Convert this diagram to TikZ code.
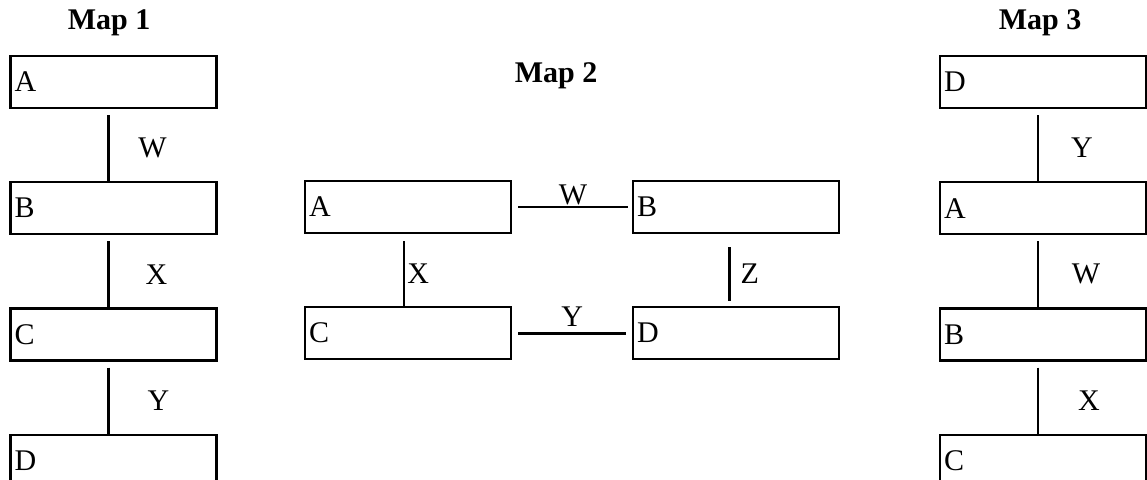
\documentclass[tikz,border=0pt]{standalone}
\usepackage{fontspec}
\setmainfont{Liberation Serif}
\usetikzlibrary{positioning}

\begin{document}
\begin{tikzpicture}[
  x=1pt, y=-1pt,
  node distance=72pt,
  box/.style={draw, line width=2.2pt, minimum height=52pt, text width=198pt,
              inner xsep=4pt, inner ysep=0pt, align=left, font=\fontsize{30}{34}\selectfont},
  maptitle/.style={anchor=base, inner sep=0pt, font=\fontsize{30}{34}\selectfont\bfseries},
  link/.style={line width=2.6pt},
  lab/.style={inner sep=2pt, font=\fontsize{30}{34}\selectfont}
]
\useasboundingbox (0,0) rectangle (1147,479);
% Map 1
\node[maptitle] (t1) at (109,29) {Map 1};
\node[box] (a1) at (113.5,82) {A};
\node[box, below=of a1] (b1) {B};
\node[box, below=of b1] (c1) {C};
\node[box, below=of c1] (d1) {D};
\draw[link] ([xshift=-5pt,yshift=-6pt]a1.south) -- node[lab, xshift=44pt]{W} ([xshift=-5pt]b1.north);
\draw[link] ([xshift=-5pt,yshift=-6pt]b1.south) -- node[lab, xshift=48pt]{X} ([xshift=-5pt]c1.north);
\draw[link] ([xshift=-5pt,yshift=-6pt]c1.south) -- node[lab, xshift=50pt]{Y} ([xshift=-5pt]d1.north);
% Map 2
\node[maptitle] (t2) at (556,82) {Map 2};
\node[box] (a2) at (408,207) {A};
\node[box, right=120pt of a2] (b2) {B};
\node[box, below=of a2] (c2) {C};
\node[box, below=of b2] (d2) {D};
\draw[link] ([xshift=6pt]a2.east) -- node[lab, above, inner sep=1pt]{W} ([xshift=-4pt]b2.west);
\draw[link] ([xshift=6pt]c2.east) -- node[lab, above, inner sep=5pt]{Y} ([xshift=-6pt]d2.west);
\draw[link] ([xshift=-4pt,yshift=-7pt]a2.south) -- node[lab, right]{X} ([xshift=-4pt]c2.north);
\draw[link] ([xshift=-7pt,yshift=-13pt]b2.south) -- node[lab, right=8pt]{Z} ([xshift=-7pt,yshift=5pt]d2.north);
% Map 3
\node[maptitle] (t3) at (1040,29) {Map 3};
\node[box] (d3) at (1043,82) {D};
\node[box, below=of d3] (a3) {A};
\node[box, below=of a3] (b3) {B};
\node[box, below=of b3] (c3) {C};
\draw[link] ([xshift=-5pt,yshift=-6pt]d3.south) -- node[lab, xshift=44pt]{Y} ([xshift=-5pt]a3.north);
\draw[link] ([xshift=-5pt,yshift=-6pt]a3.south) -- node[lab, xshift=48pt]{W} ([xshift=-5pt]b3.north);
\draw[link] ([xshift=-5pt,yshift=-6pt]b3.south) -- node[lab, xshift=51pt]{X} ([xshift=-5pt]c3.north);
\end{tikzpicture}
\end{document}
